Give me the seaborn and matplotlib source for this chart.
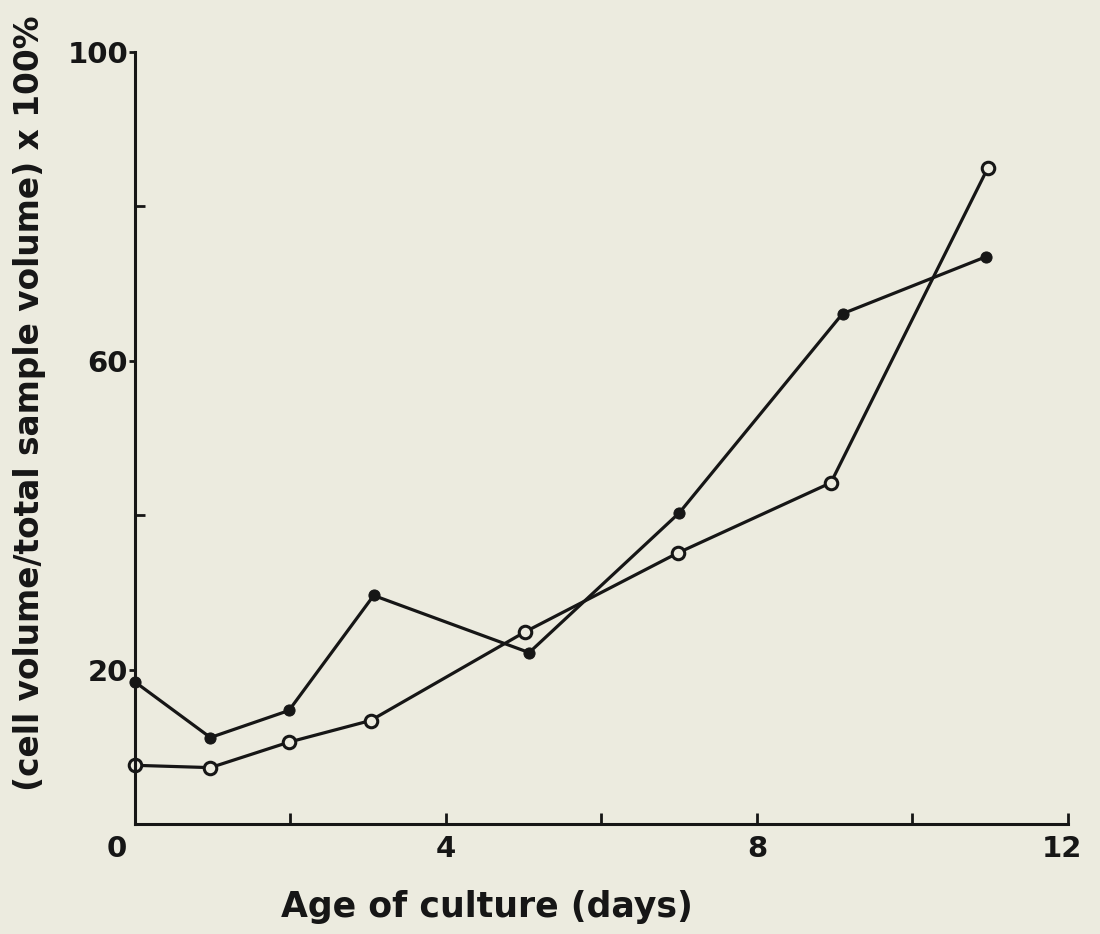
import matplotlib
matplotlib.use("Agg")
import matplotlib.pyplot as plt
import seaborn as sns
import pandas as pd

# values
days_filled = [0.0, 0.97, 1.98, 3.07, 5.07, 7.0, 9.1, 10.95]
vol_filled = [18.4, 11.2, 14.7, 29.6, 22.2, 40.3, 66.1, 73.5]

days_open = [0.0, 0.97, 1.98, 3.03, 5.02, 6.98, 8.95, 10.97]
vol_open = [7.6, 7.3, 10.6, 13.4, 24.9, 35.1, 44.2, 85.0]

x_ticks = [2, 4, 6, 8, 10, 12]
x_labeled = [0, 4, 8, 12]
y_ticks = [20, 40, 60, 80, 100]
y_labeled = [20, 60, 100]

paper = "#ecebdf"
ink = "#161616"

sns.set_style("ticks")
plt.rcParams["font.family"] = ["DejaVu Sans"]
plt.rcParams["font.weight"] = "bold"

fig = plt.figure(figsize=(11, 9.34), dpi=100, facecolor=paper)
ax = fig.add_axes([0.1227, 0.1178, 0.8482, 0.8265])
ax.set_facecolor(paper)

filled = pd.DataFrame({"day": days_filled, "vol": vol_filled})
opened = pd.DataFrame({"day": days_open, "vol": vol_open})

sns.lineplot(data=filled, x="day", y="vol", ax=ax, color=ink, lw=2.3,
             marker="o", markersize=8, markerfacecolor=ink,
             markeredgecolor=ink, sort=False, clip_on=False)
sns.lineplot(data=opened, x="day", y="vol", ax=ax, color=ink, lw=2.3,
             marker="o", markersize=9, markerfacecolor=paper,
             markeredgecolor=ink, markeredgewidth=2.2, sort=False,
             clip_on=False)

ax.set_xlim(0, 12)
ax.set_ylim(0, 100)
sns.despine(ax=ax)
for s in ["left", "bottom"]:
    ax.spines[s].set_linewidth(2.2)
    ax.spines[s].set_color(ink)

ax.set_xticks(x_ticks)
ax.set_xticklabels([])
ax.tick_params(axis="x", direction="in", length=8, width=2, color=ink)
for v in x_labeled:
    dx = -13 if v == 0 else (-4 if v == 12 else 0)
    ax.annotate(str(v), (v, 0), xycoords="data", xytext=(dx, -8),
                textcoords="offset points", ha="center", va="top",
                fontsize=21, fontweight="bold", color=ink)

ax.set_yticks(y_labeled)
ax.set_yticklabels([str(v) for v in y_labeled], fontsize=21, fontweight="bold",
                   color=ink)
ax.tick_params(axis="y", direction="out", length=4, width=2, pad=1, color=ink)
ax.set_yticks([v for v in y_ticks if v not in y_labeled], minor=True)
ax.tick_params(axis="y", which="minor", direction="in", length=7, width=2,
               color=ink)
ax.set_xticks([], minor=True)

ax.set_xlabel("Age of culture (days)", fontsize=25, fontweight="bold",
              color=ink)
ax.xaxis.set_label_coords(0.377, -0.085)
ax.set_ylabel("(cell volume/total sample volume) x 100%", fontsize=23.6,
              fontweight="bold", color=ink)
ax.yaxis.set_label_coords(-0.095, 0.545)

fig.savefig("out.png", dpi=100, facecolor=paper)
